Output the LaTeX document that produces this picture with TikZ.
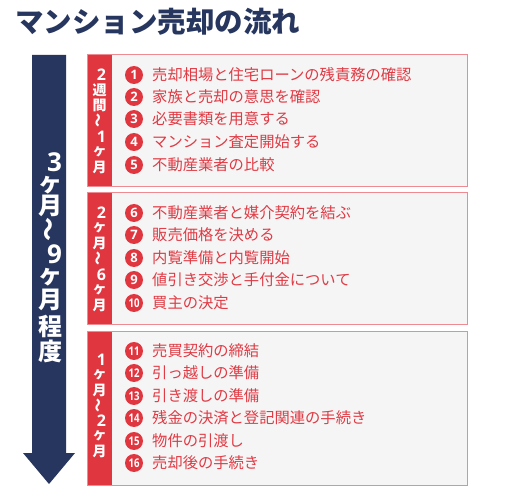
\documentclass[tikz,border=0pt]{standalone}
\usepackage{fontspec}
\usepackage{graphicx}
\newfontfamily\jp{Noto Sans CJK JP}
\newfontfamily\lat{Open Sans}
\definecolor{navy}{HTML}{27365E}
\definecolor{tabred}{HTML}{E0363F}
\definecolor{txtred}{HTML}{E03A44}
\definecolor{boxline}{HTML}{EE8A92}
\definecolor{boxfill}{HTML}{F5F5F5}
\newcommand{\vt}{\rotatebox[origin=c]{90}{〜}}
\newcommand{\adg}[1]{\hspace{8pt}{\lat\bfseries\fontsize{26}{26}\selectfont #1}}
\newcommand{\tdg}[1]{\hspace{4pt}{\lat\bfseries\fontsize{16}{16}\selectfont #1}}
\tikzset{
  boxstyle/.style={draw=boxline, line width=1pt, fill=boxfill},
  tabstyle/.style={fill=tabred},
  item/.style={anchor=west, inner sep=0pt, text=txtred, font=\jp\fontsize{15.3}{15.3}\selectfont},
  num/.style={circle, fill=tabred, text=white, minimum size=18pt, inner sep=0pt, font=\lat\bfseries\fontsize{13}{13}\selectfont},
  numw/.style={num, font=\lat\bfseries\fontsize{12}{12}\selectfont},
  tabchar/.style={text=white, inner sep=0pt, font=\jp\bfseries\fontsize{14}{14}\selectfont},
  arrowchar/.style={text=white, inner sep=0pt, font=\jp\bfseries\fontsize{24}{24}\selectfont},
}
\begin{document}
\begin{tikzpicture}[x=1pt,y=-1pt]
\useasboundingbox (0,0) rectangle (507,500);
\fill[white] (0,0) rectangle (507,500);
% title
\node[anchor=west, inner sep=0pt, text=navy, font=\jp\bfseries\fontsize{28.5}{28.5}\selectfont] (title) at (15,22) {マンション売却の流れ};
% arrow
\fill[navy] (32,55) -- (66,55) -- (66,453) -- (75,453) -- (49,484) -- (23,453) -- (32,453) -- cycle;
\foreach \c/\yy [count=\i] in {{\adg{3}}/162, ヶ/185, 月/206, \vt/230, {\adg{9}}/254, ヶ/277, 月/300, 程/326, 度/351}
  \node[arrowchar] (a\i) at (50.5,\yy) {\c};
% boxes
\draw[boxstyle] (87,55) rectangle (467,187);
\fill[tabstyle] (87.5,55.5) rectangle (112,186.5);
\draw[boxstyle] (87,193) rectangle (467,325);
\fill[tabstyle] (87.5,193.5) rectangle (112,324.5);
\draw[boxstyle] (87,332) rectangle (467,485);
\fill[tabstyle] (87.5,332.5) rectangle (112,484.5);
\foreach \c [count=\i] in {{\tdg{2}},週,間,\vt,{\tdg{1}},ヶ,月}
  \node[tabchar] (ta\i) at (99.5,{121+(\i-4)*15.4}) {\c};
\foreach \c [count=\i] in {{\tdg{2}},ヶ,月,\vt,{\tdg{6}},ヶ,月}
  \node[tabchar] (tb\i) at (99.5,{259+(\i-4)*15.4}) {\c};
\foreach \c [count=\i] in {{\tdg{1}},ヶ,月,\vt,{\tdg{2}},ヶ,月}
  \node[tabchar] (tc\i) at (99.5,{405.5+(\i-4)*15.4}) {\c};
% box 1
\node[num] (n1) at (134,75) {1};  \node[item] (i1) at (152,75) {売却相場と住宅ローンの残責務の確認};
\node[num] (n2) at (134,97) {2};  \node[item] (i2) at (152,97) {家族と売却の意思を確認};
\node[num] (n3) at (134,119) {3}; \node[item] (i3) at (152,119) {必要書類を用意する};
\node[num] (n4) at (134,142) {4}; \node[item] (i4) at (152,142) {マンション査定開始する};
\node[num] (n5) at (134,165) {5}; \node[item] (i5) at (152,165) {不動産業者の比較};
% box 2
\node[num] (n6) at (134,213) {6};  \node[item] (i6) at (152,213) {不動産業者と媒介契約を結ぶ};
\node[num] (n7) at (134,235) {7};  \node[item] (i7) at (152,235) {販売価格を決める};
\node[num] (n8) at (134,258) {8};  \node[item] (i8) at (152,258) {内覧準備と内覧開始};
\node[num] (n9) at (134,280) {9};  \node[item] (i9) at (152,280) {値引き交渉と手付金について};
\node[numw] (n10) at (134,303) {\scalebox{0.8}[1]{10}}; \node[item] (i10) at (152,303) {買主の決定};
% box 3
\node[numw] (n11) at (134,351) {\scalebox{0.8}[1]{11}}; \node[item] (i11) at (152,351) {売買契約の締結};
\node[numw] (n12) at (134,373) {\scalebox{0.8}[1]{12}}; \node[item] (i12) at (152,373) {引っ越しの準備};
\node[numw] (n13) at (134,396) {\scalebox{0.8}[1]{13}}; \node[item] (i13) at (152,396) {引き渡しの準備};
\node[numw] (n14) at (134,418) {\scalebox{0.8}[1]{14}}; \node[item] (i14) at (152,418) {残金の決済と登記関連の手続き};
\node[numw] (n15) at (134,441) {\scalebox{0.8}[1]{15}}; \node[item] (i15) at (152,441) {物件の引渡し};
\node[numw] (n16) at (134,463) {\scalebox{0.8}[1]{16}}; \node[item] (i16) at (152,463) {売却後の手続き};
\end{tikzpicture}
\end{document}
